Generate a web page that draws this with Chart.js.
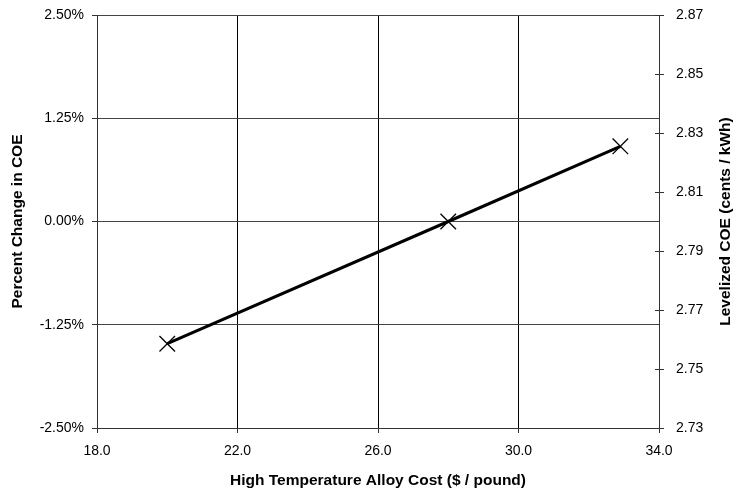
<!DOCTYPE html>
<html>
<head>
<meta charset="utf-8">
<script src="https://cdn.jsdelivr.net/npm/chart.js@4/dist/chart.umd.min.js"></script>
<style>
  html, body { margin: 0; padding: 0; background: #fff; }
  #wrap { width: 735px; height: 490px; position: relative; }
</style>
</head>
<body>
<div id="wrap"><canvas id="c" width="735" height="490"></canvas></div>
<script>
// Sensitivity of cost of electricity to alloy price
const alloyCost = [20.0, 28.0, 32.9];          // $ / pound
const pctChange = [-1.48, 0.0, 0.91];          // % change in COE
const xTicks = [18, 22, 26, 30, 34];
const pctTicks = [-2.5, -1.25, 0, 1.25, 2.5];
const coeTicks = [2.73, 2.75, 2.77, 2.79, 2.81, 2.83, 2.85, 2.87];

const FONT = "'Liberation Sans', Arial, Helvetica, sans-serif";
const tickFont = { family: FONT, size: 14 };
const titleFont = { family: FONT, size: 15.5, weight: 'bold' };

const setTicks = (vals) => (scale) => { scale.ticks = vals.map(v => ({ value: v })); };
const fixWidth = (w) => (s) => { s.width = w; s.paddingTop = 0; s.paddingBottom = 0; };

// Cross-style ticks on the right axis and its bottom-to-top title
const rightAxisExtras = {
  id: 'rightAxisExtras',
  afterDraw(chart) {
    const ctx = chart.ctx;
    const s = chart.scales.y2;
    ctx.save();
    ctx.strokeStyle = '#333';
    ctx.lineWidth = 1;
    s.ticks.forEach(t => {
      const y = Math.round(s.getPixelForValue(t.value)) + 0.5;
      ctx.beginPath();
      ctx.moveTo(s.left - 4, y);
      ctx.lineTo(s.left, y);
      ctx.stroke();
    });
    const ca = chart.chartArea;
    ctx.translate(726, (ca.top + ca.bottom) / 2);
    ctx.rotate(-Math.PI / 2);
    ctx.fillStyle = '#000';
    ctx.font = `bold ${titleFont.size}px ${FONT}`;
    ctx.textAlign = 'center';
    ctx.textBaseline = 'middle';
    ctx.fillText('Levelized COE (cents / kWh)', 0, 0);
    ctx.restore();
  }
};

new Chart(document.getElementById('c'), {
  type: 'scatter',
  data: {
    datasets: [{
      data: alloyCost.map((x, i) => ({ x, y: pctChange[i] })),
      showLine: true,
      borderColor: '#000',
      borderWidth: 3,
      pointStyle: 'crossRot',
      pointRadius: 11,
      pointBorderWidth: 1.3,
      pointBorderColor: '#000',
      pointBackgroundColor: '#000',
      yAxisID: 'y'
    }]
  },
  options: {
    responsive: false,
    animation: false,
    layout: { padding: { top: 15, right: 0, bottom: 0, left: 0 } },
    plugins: { legend: { display: false }, tooltip: { enabled: false } },
    scales: {
      x: {
        type: 'linear',
        min: 18, max: 34,
        afterBuildTicks: setTicks(xTicks),
        afterFit: (s) => { s.height = 62; },
        ticks: { font: tickFont, color: '#000', padding: 10, maxRotation: 0,
                 callback: v => v.toFixed(1) },
        grid: { color: '#000', lineWidth: 1, tickLength: 5, tickColor: '#333' },
        border: { color: '#333', width: 1 },
        title: { display: true, text: 'High Temperature Alloy Cost ($ / pound)',
                 font: titleFont, color: '#000', padding: { top: 4, bottom: 0 } }
      },
      y: {
        position: 'left',
        min: -2.5, max: 2.5,
        afterBuildTicks: setTicks(pctTicks),
        afterFit: fixWidth(97),
        ticks: { font: tickFont, color: '#000', padding: 8,
                 callback: v => v.toFixed(2) + '%' },
        grid: { color: '#444', lineWidth: 1, tickLength: 5, tickColor: '#333' },
        border: { color: '#333', width: 1 },
        title: { display: true, text: 'Percent Change in COE',
                 font: titleFont, color: '#000', padding: { top: 8, bottom: 4 } }
      },
      y2: {
        position: 'right',
        min: 2.73, max: 2.87,
        afterBuildTicks: setTicks(coeTicks),
        afterFit: fixWidth(76),
        ticks: { font: tickFont, color: '#000', padding: 12,
                 callback: v => v.toFixed(2) },
        grid: { drawOnChartArea: false, tickLength: 5, tickColor: '#333' },
        border: { color: '#333', width: 1 }
      }
    }
  },
  plugins: [rightAxisExtras]
});
</script>
</body>
</html>
